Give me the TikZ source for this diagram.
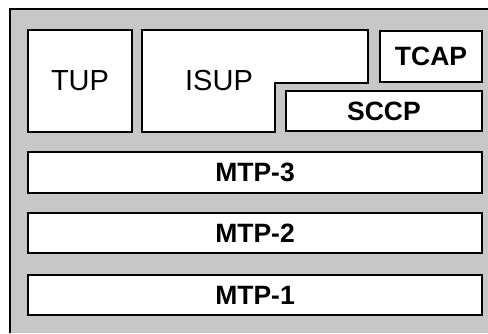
\documentclass[tikz,border=0pt]{standalone}
\usepackage{fontspec}
\setmainfont{Liberation Sans}
\begin{document}
\begin{tikzpicture}[x=1pt,y=-1pt,
  layer/.style={draw=black, line width=2.5pt, fill=white, inner sep=0pt},
  biglbl/.style={font=\fontsize{29}{29}\selectfont},
  boldlbl/.style={font=\fontsize{26.5}{26.5}\selectfont\bfseries},
  texture/.style={fill=black!22}]
\useasboundingbox (0,0) rectangle (488,333);
% textured frame background
\fill[white] (0,0) rectangle (488,333);
\fill[texture] (10,9) rectangle (488,333);
\draw[line width=1.5pt] (10,333) -- (10,9) -- (488,9);
% TUP
\node[layer, minimum width=104pt, minimum height=102pt, biglbl] (tup) at (80,81) {TUP};
% ISUP (L-shaped)
\draw[layer] (142,30) -- (368,30) -- (368,83) -- (275,83) -- (275,132) -- (142,132) -- cycle;
\node[biglbl, inner sep=0pt] (isup) at (219,81) {ISUP};
% TCAP
\node[layer, minimum width=102pt, minimum height=51pt, boldlbl] (tcap) at (431,56.5) {TCAP};
% SCCP
\node[layer, minimum width=196pt, minimum height=40pt, boldlbl] (sccp) at (384,111) {SCCP};
% MTP layers
\node[layer, minimum width=454pt, minimum height=41pt, boldlbl] (mtp3) at (255,172.5) {MTP-3};
\node[layer, minimum width=454pt, minimum height=40pt, boldlbl] (mtp2) at (255,233) {MTP-2};
\node[layer, minimum width=454pt, minimum height=40pt, boldlbl] (mtp1) at (255,295) {MTP-1};
\end{tikzpicture}
\end{document}
